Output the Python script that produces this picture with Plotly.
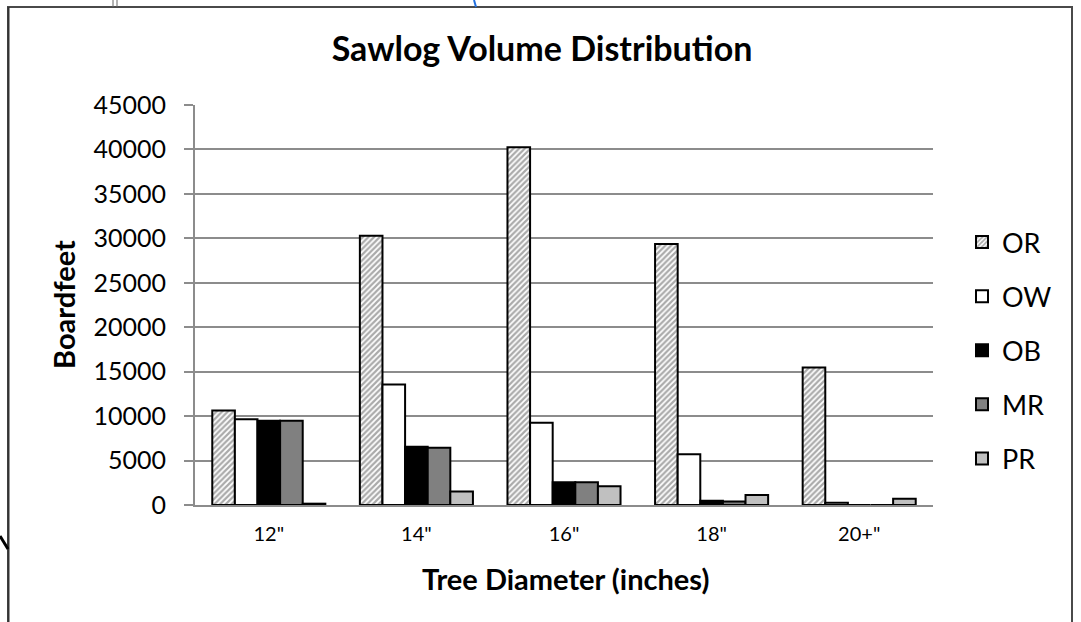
import plotly.graph_objects as go

# Sawlog volume (board feet) by tree diameter class and grade
diameters = ['12"', '14"', '16"', '18"', '20+"']
series_names = ["OR", "OW", "OB", "MR", "PR"]
or_vals = [10630, 30300, 40250, 29350, 15480]
ow_vals = [9650, 13550, 9250, 5700, 260]
ob_vals = [9470, 6540, 2560, 470, 0]
mr_vals = [9470, 6450, 2560, 400, 0]
pr_vals = [150, 1530, 2100, 1130, 700]
y_ticks = [0, 5000, 10000, 15000, 20000, 25000, 30000, 35000, 40000, 45000]
y_tick_labels = [str(v) for v in y_ticks]

W, H = 1081, 622
L, R, T, B = 195, 933, 105, 505  # plot area in pixels


def px(x):
    return (x - L) / (R - L)


def py(y):
    return (B - y) / (B - T)


FONT = "Lato"
GRID = "#8c8c8c"

styles = {
    "OR": dict(color="white", pattern=dict(shape="/", fgcolor="#555555", bgcolor="white",
                                             size=4, solidity=0.55, fillmode="overlay")),
    "OW": dict(color="white"),
    "OB": dict(color="black"),
    "MR": dict(color="#808080"),
    "PR": dict(color="#c0c0c0"),
}
values = {"OR": or_vals, "OW": ow_vals, "OB": ob_vals, "MR": mr_vals, "PR": pr_vals}

fig = go.Figure()
for name in series_names:
    st = styles[name]
    marker = dict(color=st["color"], line=dict(color="black", width=2))
    if "pattern" in st:
        marker["pattern"] = st["pattern"]
    fig.add_trace(go.Bar(
        x=diameters, y=values[name], name=name, marker=marker,
        legendgroup=name,
    ))

FRAME = "#4a4a4a"
shapes = [
    # outer chart frame
    dict(type="rect", xref="paper", yref="paper", x0=px(8), x1=px(1072), y0=py(7), y1=py(700),
         line=dict(color=FRAME, width=2), fillcolor="rgba(0,0,0,0)", layer="above"),
    dict(type="line", xref="paper", yref="paper", x0=px(8.5), x1=px(8.5), y0=py(7), y1=py(640),
         line=dict(color="#333333", width=2), layer="above"),
    # bits of surrounding page
    dict(type="line", xref="paper", yref="paper", x0=px(113), x1=px(113), y0=py(0), y1=py(7),
         line=dict(color="#666666", width=1)),
    dict(type="line", xref="paper", yref="paper", x0=px(117), x1=px(117), y0=py(0), y1=py(7),
         line=dict(color="#666666", width=1)),
    dict(type="line", xref="paper", yref="paper", x0=px(474), x1=px(476), y0=py(0), y1=py(7),
         line=dict(color="#1f6fe0", width=2)),
    dict(type="line", xref="paper", yref="paper", x0=px(0), x1=px(8), y0=py(536), y1=py(549),
         line=dict(color="black", width=3)),
]

annotations = [
    dict(text="<b>Boardfeet</b>", xref="paper", yref="paper", x=px(63), y=py(305),
         textangle=-90, showarrow=False, font=dict(family=FONT, size=29, color="black"),
         xanchor="center", yanchor="middle"),
    dict(text="<b>Tree Diameter (inches)</b>", xref="paper", yref="paper", x=px(565), y=py(578),
         showarrow=False, font=dict(family=FONT, size=29, color="black"),
         xanchor="center", yanchor="middle"),
]

fig.update_layout(
    width=W, height=H,
    margin=dict(l=L, r=W - R, t=T, b=H - B, pad=0),
    paper_bgcolor="white", plot_bgcolor="white",
    barmode="group", bargap=0.234, bargroupgap=0,
    title=dict(text="<b>Sawlog Volume Distribution</b>", x=px(542), xref="paper",
               y=1 - 49 / H, yref="container", xanchor="center", yanchor="middle",
               font=dict(family=FONT, size=34, color="black")),
    xaxis=dict(showline=True, linecolor=GRID, linewidth=2, showgrid=False,
               ticks="", tickfont=dict(family=FONT, size=20, color="black"),
               ticklabelstandoff=10),
    yaxis=dict(range=[0, 45000], tickvals=y_ticks, ticktext=y_tick_labels,
               showgrid=True, gridcolor=GRID, gridwidth=2,
               showline=True, linecolor=GRID, linewidth=2, ticks="outside", ticklen=9,
               tickcolor=GRID, tickwidth=2, zeroline=False,
               tickfont=dict(family=FONT, size=25, color="black"), ticklabelstandoff=13),
    legend=dict(x=px(962), y=py(218), xanchor="left", yanchor="top",
                font=dict(family=FONT, size=27, color="black"),
                traceorder="grouped", tracegroupgap=16, itemwidth=30,
                bgcolor="rgba(0,0,0,0)"),
    shapes=shapes,
    annotations=annotations,
)

fig.write_html("out.html")
